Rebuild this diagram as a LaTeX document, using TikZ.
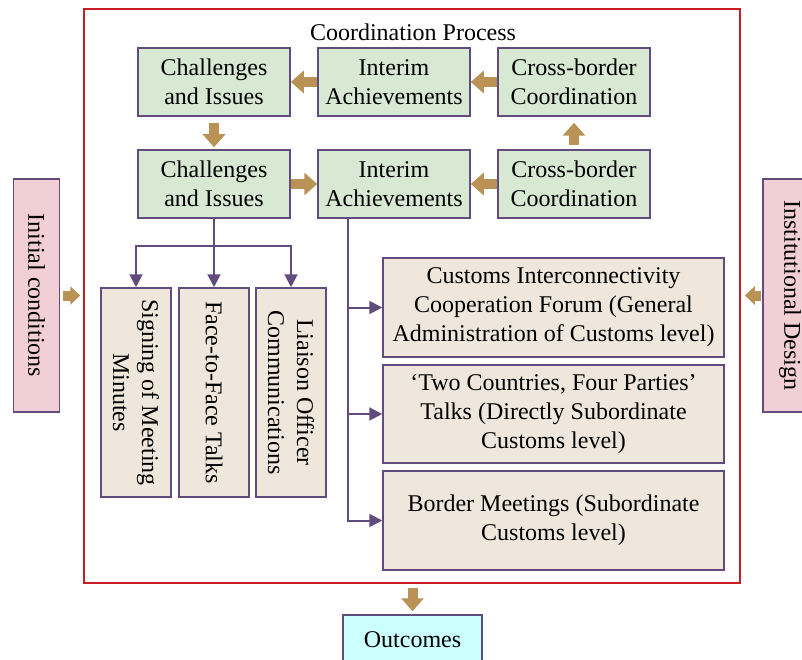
\documentclass[tikz,border=0pt]{standalone}
\usepackage{fontspec}
\setmainfont{Liberation Serif}
\usetikzlibrary{shapes,arrows.meta,positioning,calc}

\definecolor{boxline}{RGB}{98,76,126}
\definecolor{greenfill}{RGB}{216,233,211}
\definecolor{beigefill}{RGB}{239,231,219}
\definecolor{pinkfill}{RGB}{242,207,213}
\definecolor{cyanfill}{RGB}{204,255,255}
\definecolor{framered}{RGB}{200,30,35}
\definecolor{fatbrown}{RGB}{186,146,86}

\begin{document}
\begin{tikzpicture}[
    x=1pt, y=-1pt,
    box/.style={rectangle, draw=boxline, line width=1.5pt, align=center, inner sep=2pt,
        font=\fontsize{24}{29}\selectfont},
    stage/.style={box, fill=greenfill, minimum width=152, minimum height=68},
    channel/.style={box, fill=beigefill, rotate=-90, minimum width=209, minimum height=70},
    level/.style={box, fill=beigefill, minimum width=341},
    side/.style={box, fill=pinkfill, rotate=-90, minimum width=233, minimum height=46},
    fat/.style={line width=10pt, draw=fatbrown, -{Triangle[length=13pt,width=22pt]}},
    smallfat/.style={line width=10pt, draw=fatbrown, -{Triangle[length=10pt,width=18pt]}},
    link/.style={line width=2pt, draw=boxline},
    linka/.style={link, -{Triangle[length=13pt,width=13pt]}}
]
\useasboundingbox (0,0) rectangle (802,660);

% Coordination frame and title
\node[rectangle, draw=framered, line width=1.5pt, minimum width=656, minimum height=574] (frame) at (412,296) {};
\node[font=\fontsize{24}{29}\selectfont] (title) at (413,32) {Coordination Process};

% First row
\node[stage] (chal1) at (214,82) {Challenges\\and Issues};
\node[stage] (achv1) at (394,82) {Interim\\Achievements};
\node[stage] (cros1) at (574,82) {Cross-border\\Coordination};

% Second row
\node[stage] (chal2) at (214,184) {Challenges\\and Issues};
\node[stage] (achv2) at (394,184) {Interim\\Achievements};
\node[stage] (cros2) at (574,184) {Cross-border\\Coordination};

% Fat arrows between stages
\draw[fat] (cros1) -- (achv1);
\draw[fat] (achv1) -- (chal1);
\draw[fat, shorten <=6pt, shorten >=2pt] (chal1) -- (chal2);
\draw[fat] (chal2) -- (achv2);
\draw[fat] (cros2) -- (achv2);
\draw[fat, shorten <=4pt, shorten >=6pt] (cros2) -- (cros1);

% Coordination channels (vertical text)
\node[channel] (sign) at (136,392.5) {Signing of Meeting\\Minutes};
\node[channel] (face) at (214,392.5) {Face-to-Face Talks};
\node[channel] (liai) at (291,392.5) {Liaison Officer\\Communications};

\coordinate (split) at (214,246);
\draw[link] (chal2) -- (split);
\draw[linka] (split) -| (sign);
\draw[linka] (split) -- (face);
\draw[linka] (split) -| (liai);

% Coordination levels
\node[level, minimum height=99] (forum) at (553.5,307.5) {Customs Interconnectivity\\Cooperation Forum (General\\Administration of Customs level)};
\node[level, minimum height=98] (talks) at (553.5,414) {‘Two Countries, Four Parties’\\Talks (Directly Subordinate\\Customs level)};
\node[level, minimum height=99] (meet) at (553.5,520.5) {Border Meetings (Subordinate\\Customs level)};

\coordinate (trunk) at (348,218);
\draw[linka] (trunk) |- (forum);
\draw[linka] (trunk) |- (talks);
\draw[linka] (trunk) |- (meet);

% Inputs and outcome
\node[side] (init) at (36.5,295.5) {Initial conditions};
\node[side, minimum height=54] (inst) at (790,295.5) {Institutional Design};
\node[box, fill=cyanfill, minimum width=139, minimum height=50] (outc) at (412.5,640) {Outcomes};

\draw[smallfat, shorten <=2.5pt, shorten >=3pt] (init) -- (init -| frame.west);
\draw[smallfat, shorten <=1pt, shorten >=4pt] (inst) -- (inst -| frame.east);
\draw[fat, shorten <=4pt, shorten >=3pt] (frame.south -| outc) -- (outc);

\end{tikzpicture}
\end{document}
